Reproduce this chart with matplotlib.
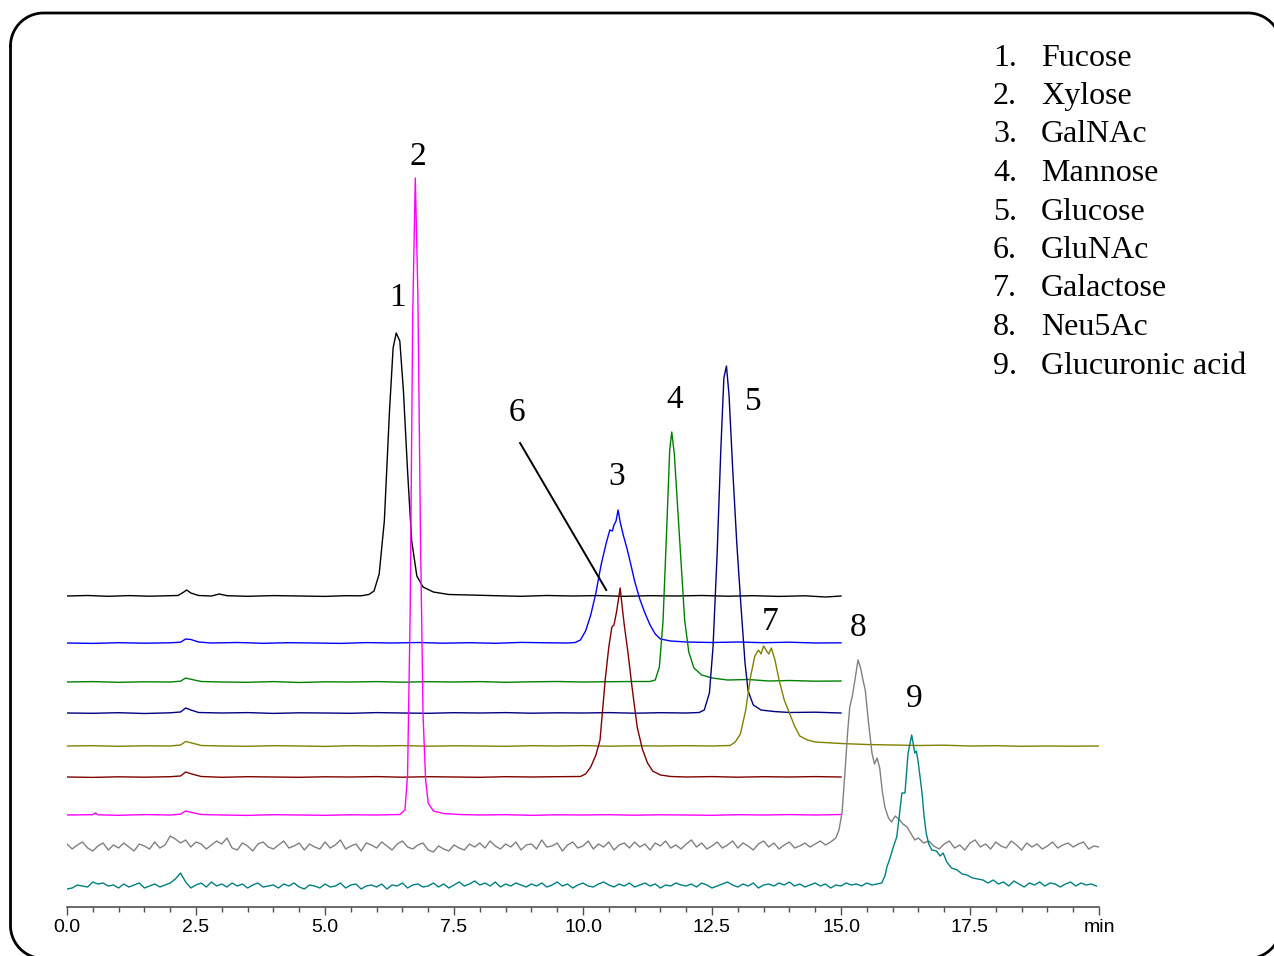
import matplotlib
matplotlib.use("Agg")
import matplotlib.pyplot as plt
import numpy as np
from matplotlib.ticker import MultipleLocator

# ---------------- data (time in min, signal height above own baseline) -------------
BLACK = [(0.0,0),(0.4,0.5),(0.8,-0.3),(1.2,0.4),(1.6,-0.2),(2.0,0.3),(2.15,0.5),(2.25,3.5),(2.32,6),(2.4,3),
         (2.55,0.5),(2.8,0),(2.95,2),(3.1,0.3),(3.5,-0.3),(4.0,0.4),(4.5,0),(5.0,-0.4),(5.4,0.3),(5.7,0.2),
         (5.85,1.5),(5.95,5),(6.05,22),(6.15,75),(6.25,185),(6.32,248),(6.38,263),(6.45,255),(6.52,205),(6.6,125),
         (6.68,55),(6.78,20),(6.9,9),(7.1,4),(7.4,1.5),(7.8,1),(8.3,0.3),(8.8,-0.3),(9.3,0.5),(9.8,0),
         (10.3,0.4),(10.8,-0.3),(11.3,0.3),(11.8,0),(12.3,0.5),(12.8,-0.2),(13.3,0.3),(13.8,-0.4),(14.3,0.2),(14.7,-1),(15.0,0)]

BLUE = [(0,0),(0.5,-0.4),(1.0,0.3),(1.5,-0.2),(2.0,0.2),(2.2,0.8),(2.3,4),(2.4,3.5),(2.55,1),(2.8,0),(3.3,0.5),
        (3.8,-0.3),(4.3,0.3),(4.8,0),(5.3,-0.4),(5.8,0.4),(6.3,0),(6.8,0.5),(7.3,-0.2),(7.8,0.3),(8.3,-0.3),
        (8.8,0.6),(9.3,0.2),(9.7,0),(9.85,0.5),(9.95,3),(10.05,12),(10.15,28),(10.25,50),(10.35,78),(10.45,100),
        (10.52,113),(10.57,112),(10.6,118),(10.64,122),(10.68,133),(10.72,121),(10.78,108),(10.85,95),(10.92,80),
        (11.0,62),(11.1,44),(11.2,30),(11.3,18),(11.4,9),(11.5,4),(11.7,2),(12.0,1),(12.5,0.5),(13.0,1),
        (13.5,0.3),(14.0,0.8),(14.5,0),(15.0,0.2)]

GREEN = [(0,0),(0.5,0.4),(1.0,-0.3),(1.5,0.2),(2.0,0),(2.2,0.8),(2.3,4),(2.42,2.5),(2.6,0.5),(3.0,0),(3.5,-0.3),
         (4.0,0.4),(4.5,-0.5),(5.0,0.2),(5.5,0),(6.0,0.4),(6.5,-0.2),(7.0,0.3),(7.5,0),(8.0,0.4),(8.5,-0.3),
         (9.0,0.2),(9.5,0.5),(10.0,0),(10.5,0.3),(11.0,0.5),(11.3,0.5),(11.4,2),(11.48,15),(11.55,60),(11.62,150),
         (11.68,232),(11.72,250),(11.77,228),(11.83,178),(11.9,120),(11.97,62),(12.05,30),(12.15,14),(12.3,7),
         (12.5,4),(12.8,2),(13.2,2.5),(13.6,1),(14.0,1.5),(14.5,0.8),(15.0,1)]

NAVY = [(0,0),(0.5,-0.3),(1.0,0.3),(1.5,-0.5),(2.0,0.2),(2.2,1),(2.3,5),(2.4,3),(2.55,0.5),(3.0,0),(3.5,0.4),
        (4.0,-0.4),(4.5,0.2),(5.0,0),(5.5,-0.3),(6.0,0.4),(6.5,0),(7.0,-0.3),(7.5,0.3),(8.0,0),(8.5,0.4),
        (9.0,-0.2),(9.5,0.2),(10.0,0),(10.5,0.4),(11.0,-0.2),(11.5,0.3),(12.0,0),(12.25,0.5),(12.35,3),(12.45,20),
        (12.52,66),(12.6,160),(12.67,262),(12.73,335),(12.78,347),(12.83,318),(12.9,245),(12.98,170),(13.06,108),
        (13.14,50),(13.2,22),(13.3,8),(13.45,3),(13.7,1.5),(14.0,0.5),(14.5,0.8),(15.0,0)]

OLIVE = [(0,0),(0.5,0.3),(1.0,-0.3),(1.5,0.2),(2.0,0),(2.2,1),(2.3,4.5),(2.42,3),(2.6,0.5),(3.0,0),(3.5,-0.3),
         (4.0,0.3),(4.5,0),(5.0,-0.4),(5.5,0.3),(6.0,0),(6.5,0.4),(7.0,-0.2),(7.5,0.2),(8.0,0),(8.5,-0.3),
         (9.0,0.3),(9.5,0),(10.0,0.4),(10.5,-0.2),(11.0,0.2),(11.5,0),(12.0,0.3),(12.5,0),(12.85,0.5),(12.95,4),
         (13.05,12),(13.15,35),(13.25,70),(13.33,90),(13.4,96),(13.45,92),(13.5,100),(13.56,95),(13.6,92),
         (13.65,98),(13.72,86),(13.8,66),(13.9,46),(14.0,33),(14.1,20),(14.2,10),(14.35,6),(14.5,4),(15.0,2.5),
         (15.5,1.5),(16.0,1),(16.5,0.5),(17.0,0.8),(17.5,0),(18.0,0.3),(18.5,-0.3),(19.0,0),(19.5,-0.2),(20.0,0)]

RED = [(0,0),(0.5,-0.4),(1.0,0.2),(1.5,-0.2),(2.0,0.3),(2.2,1),(2.3,5),(2.42,3),(2.6,0.5),(3.0,-0.3),(3.5,0.3),
       (4.0,0),(4.5,-0.3),(5.0,0.2),(5.5,0),(6.0,0.4),(6.5,-0.2),(7.0,0.3),(7.5,0),(8.0,-0.3),(8.5,0.3),(9.0,0),
       (9.5,0.3),(9.95,0.5),(10.05,3),(10.15,10),(10.25,22),(10.33,37),(10.43,97),(10.5,130),(10.56,150),
       (10.6,152),(10.65,165),(10.72,189),(10.76,170),(10.8,152),(10.87,125),(10.95,90),(11.05,50),(11.15,28),
       (11.25,14),(11.35,6),(11.5,2),(11.7,0.5),(12.0,0),(12.5,0.4),(13.0,-0.2),(13.5,0.3),(14.0,0),(14.5,0.4),(15.0,0)]

MAGENTA = [(0,0),(0.5,0.3),(0.55,2),(0.6,0.2),(1.0,-0.3),(1.5,0.4),(2.0,0),(2.2,0.8),(2.3,4),(2.42,2.5),
           (2.6,0.5),(3.0,0),(3.5,-0.4),(4.0,0.3),(4.5,0),(5.0,-0.3),(5.5,0.2),(6.0,0),(6.3,0.3),(6.45,0.5),
           (6.55,5),(6.6,40),(6.65,200),(6.7,500),(6.75,637),(6.8,520),(6.85,280),(6.9,100),(6.95,35),(7.0,12),
           (7.1,4),(7.3,1.5),(7.6,0.5),(8.0,0),(8.5,0.3),(9.0,-0.3),(9.5,0.2),(10.0,0),(10.5,0.3),(11.0,-0.2),
           (11.5,0.2),(12.0,0),(12.5,-0.3),(13.0,0.3),(13.5,0),(14.0,0.4),(14.5,0),(15.0,0.5)]

# noisy traces: baseline noise read every 0.1 min, plus the peak read point by point
GRAY_NOISE_LEFT = [2,-3,1,4,-2,-5,0,3,-4,1, -2,3,-1,-5,2,0,-3,4,-2,1, 10,7,3,6,-1,4,2,-3,1,5,
                   2,8,-2,-4,3,0,-5,2,4,-1, -3,1,5,-2,0,3,-4,2,-1,-3, 4,-2,1,6,-3,0,2,-5,3,1,
                   -2,4,0,-4,2,5,-1,-3,1,3, -4,-6,0,-3,-5,1,-2,-4,2,-1, 3,-2,5,0,-3,2,-1,4,-4,1,
                   2,-3,6,-1,0,3,-5,1,4,-2, 0,5,-3,2,-1,4,-4,1,3,-2, 4,-1,2,-4,3,0,5,-2,1,-3,
                   2,6,-1,3,-3,0,4,-2,1,5, -2,3,0,-4,2,5,-1,3,-3,1, 4,-2,0,3,-1,2,5,1,4]
GRAY_PEAK = [(14.9,8),(14.96,16),(15.02,33),(15.08,76),(15.13,115),(15.17,139),(15.22,150),(15.27,166),
             (15.33,186),(15.38,178),(15.43,165),(15.47,156),(15.53,125),(15.6,93),(15.65,82),(15.7,88),
             (15.75,78),(15.8,55),(15.85,39),(15.92,28),(15.98,24),(16.05,30),(16.14,26),(16.2,22),(16.28,19),
             (16.36,12),(16.43,6),(16.5,8),(16.6,3),(16.7,5)]
GRAY_NOISE_RIGHT = [0,-3,2,5,-2,1,-4,3,6,-1,2,-3,4,0,-2,5,1,-4,3,-1,2,-3,0,4,-2,1,3,-1,2,4,-3,0,-1]

TEAL_NOISE_LEFT = [-3,-2,1,0,-1,4,2,3,0,1, -2,2,-1,1,3,-2,0,2,-1,1, 3,7,13,4,-2,1,3,-1,4,0,
                   2,-1,3,0,2,-2,1,3,-1,0, 1,-2,2,0,3,-1,-3,1,0,-2, 2,-1,0,3,-2,1,2,-3,0,1,
                   -1,2,-3,1,0,3,-2,1,2,-1, 0,3,-1,2,-2,1,4,0,2,5, 1,3,0,4,-1,2,0,3,1,-1,
                   2,0,3,-1,1,4,0,2,-2,1, 3,0,-1,2,4,1,-1,2,0,3, -1,1,3,0,2,-2,1,0,3,1,
                   0,2,-1,3,1,-2,0,2,4,1, -1,2,0,3,-2,1,2,0,3,1, 4,0,2,-1,1,3,0,2,-2,1, 0,3,1,2,0,3,1]
TEAL_PEAK = [(15.7,2),(15.79,3),(15.85,10),(15.89,19),(15.95,28),(16.02,40),(16.08,49),(16.13,70),(16.18,93),
             (16.24,93),(16.3,133),(16.37,151),(16.43,133),(16.46,135),(16.49,126),(16.53,110),(16.57,93),
             (16.61,70),(16.65,53),(16.7,42),(16.76,36),(16.85,35),(16.92,30),(16.98,33),(17.05,24),(17.14,18),
             (17.25,16),(17.35,12),(17.44,11),(17.55,8),(17.65,7),(17.75,6)]
TEAL_NOISE_RIGHT = [3,6,2,4,0,5,2,-1,3,1,4,0,3,2,-1,2,4,0,3,1,2,0]

TRACE_NAMES = ["black", "blue", "green", "navy", "olive", "red", "magenta", "gray", "teal"]
OFFSETS = [316, 269, 230, 199, 166, 135, 97, 66, 26]
COLORS = ["#000000", "#0000ff", "#008000", "#000080", "#808000", "#800000", "#ff00ff", "#808080", "#008080"]

PEAK_LABELS = ["1", "2", "3", "4", "5", "6", "7", "8", "9"]
PEAK_LABEL_POS = [(6.41, 614), (6.80, 755), (10.66, 435), (11.78, 512), (13.31, 510),
                  (8.72, 499), (13.62, 290), (15.33, 284), (16.41, 213)]
COMPOUNDS = ["Fucose", "Xylose", "GalNAc", "Mannose", "Glucose", "GluNAc", "Galactose",
             "Neu5Ac", "Glucuronic acid"]

XTICKS = [0.0, 2.5, 5.0, 7.5, 10.0, 12.5, 15.0, 17.5, 20.0]
XTICK_LABELS = ["0.0", "2.5", "5.0", "7.5", "10.0", "12.5", "15.0", "17.5", "min"]


def pairs(p):
    a = np.array(p, float)
    return a[:, 0], a[:, 1]


def noisy(left, peak, right_start, right):
    tl = 0.0 + 0.1 * np.arange(len(left))
    tp, hp = pairs(peak)
    tr = right_start + 0.1 * np.arange(len(right))
    return np.concatenate([tl, tp, tr]), np.concatenate([np.array(left, float), hp, np.array(right, float)])


traces = [pairs(BLACK), pairs(BLUE), pairs(GREEN), pairs(NAVY), pairs(OLIVE), pairs(RED), pairs(MAGENTA),
          noisy(GRAY_NOISE_LEFT, GRAY_PEAK, 16.8, GRAY_NOISE_RIGHT),
          noisy(TEAL_NOISE_LEFT, TEAL_PEAK, 17.85, TEAL_NOISE_RIGHT)]

# ---------------- figure ----------------
W, H = 1274, 956
fig = plt.figure(figsize=(W / 100, H / 100), dpi=100)
fig.patch.set_facecolor("white")

# rounded frame drawn in pixel coordinates (y downward) on a full-figure overlay
bg = fig.add_axes([0, 0, 1, 1])
bg.set_xlim(0, W)
bg.set_ylim(H, 0)
bg.axis("off")
L, R, T, B, r = 10.5, 1281, 13, 958.5, 33
ang = np.linspace(0, np.pi / 2, 30)
fx = np.concatenate([L + r - r * np.cos(ang), R - r + r * np.sin(ang), R - r + r * np.cos(ang),
                     L + r - r * np.sin(ang), [L]])
fy = np.concatenate([T + r - r * np.sin(ang), T + r - r * np.cos(ang), B - r + r * np.sin(ang),
                     B - r + r * np.cos(ang), [T + r]])
bg.plot(fx, fy, color="black", lw=2.0, solid_capstyle="round", clip_on=False)

ax = fig.add_axes([67 / W, 44 / H, 1032 / W, 892 / H])
ax.set_xlim(0, 20)
ax.set_ylim(0, 892)
ax.patch.set_alpha(0)

for (t, h), off, c in zip(traces, OFFSETS, COLORS):
    ax.plot(t, h + off, color=c, lw=1.0)

serif = ["Liberation Serif", "DejaVu Serif"]
for lab, (x, y) in zip(PEAK_LABELS, PEAK_LABEL_POS):
    ax.text(x, y, lab, ha="center", va="center", fontsize=24, family=serif)

# leader line for peak 6
ax.plot([8.78, 10.45], [469, 322], color="black", lw=1.4)

for sp in ["left", "right", "top"]:
    ax.spines[sp].set_visible(False)
ax.spines["bottom"].set_position(("data", 5))
ax.spines["bottom"].set_color("#505050")
ax.spines["bottom"].set_linewidth(1.2)
ax.set_yticks([])
ax.set_xticks(XTICKS)
ax.set_xticklabels(XTICK_LABELS, family=["Liberation Sans", "DejaVu Sans"], fontsize=14)
ax.xaxis.set_minor_locator(MultipleLocator(0.5))
ax.tick_params(axis="x", which="major", length=6, width=1, color="#505050", pad=2.5)
ax.tick_params(axis="x", which="minor", length=3.5, width=1, color="#505050")

for i, name in enumerate(COMPOUNDS):
    y = 1 - (58 + 38.5 * i) / H
    fig.text(993 / W, y, f"{i + 1}.", ha="left", va="center", fontsize=23, family=serif)
    fig.text(1041 / W, y, name, ha="left", va="center", fontsize=23, family=serif)

fig.savefig("out.png", dpi=100, facecolor="white")
